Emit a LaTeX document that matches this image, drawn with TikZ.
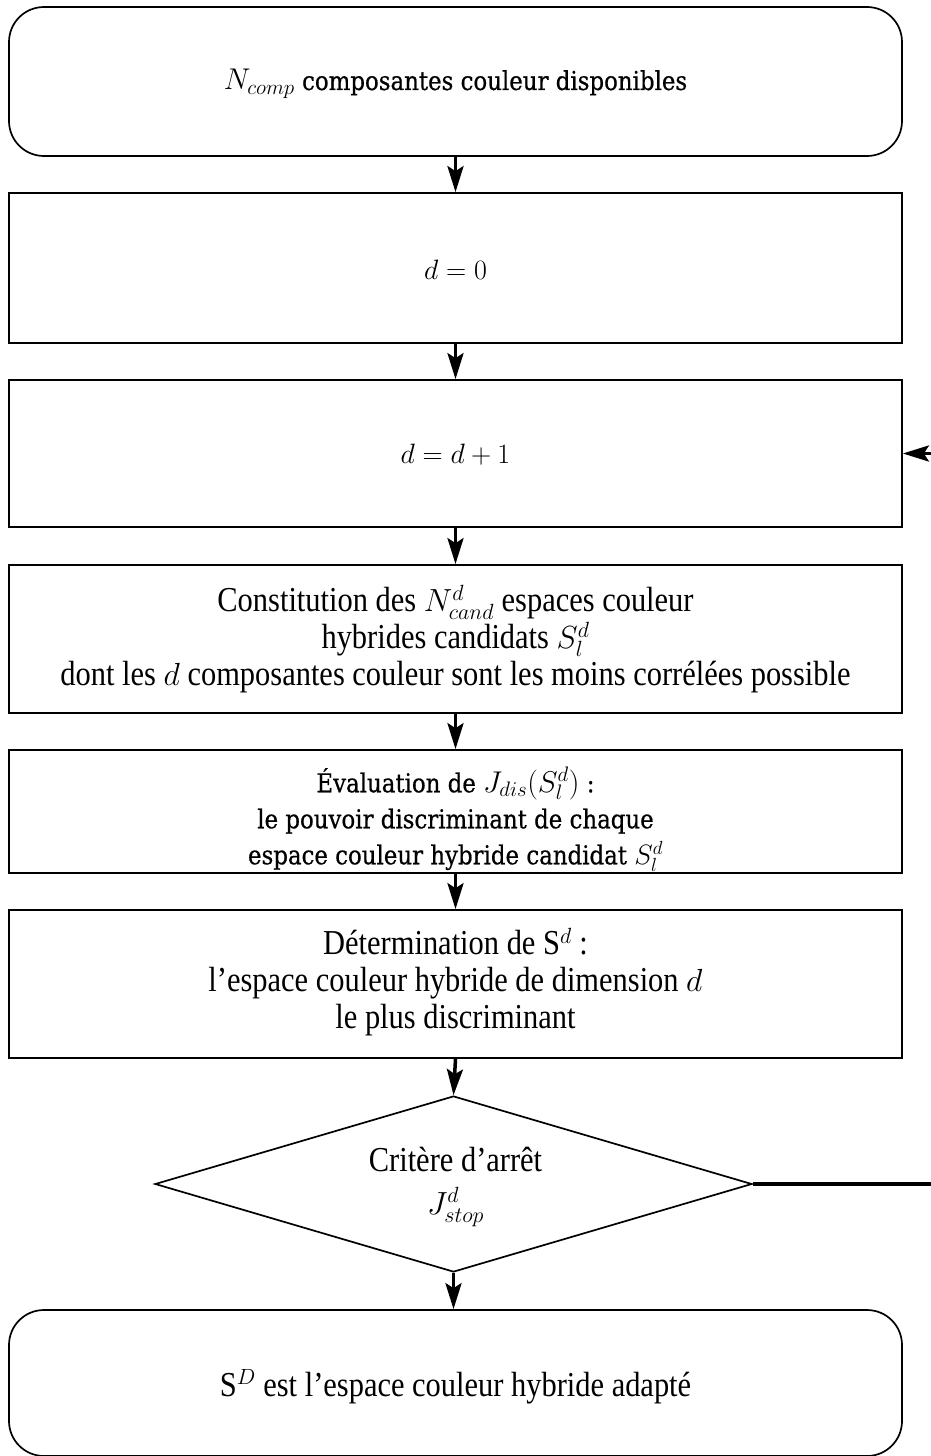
\documentclass[tikz,border=0pt]{standalone}
\usepackage{fix-cm}
\usepackage{fontspec}
\setmainfont[FakeStretch=0.88,FakeBold=0.6]{DejaVu Serif}
\newfontfamily\narrowf[FakeStretch=0.87]{Liberation Serif}
\DeclareMathSizes{35}{32}{22}{16}
\DeclareMathSizes{26}{28}{19}{14}
\usetikzlibrary{arrows.meta,shapes.geometric}
\begin{document}
\begin{tikzpicture}[x=1pt,y=-1pt,
  box/.style={draw, line width=1.7pt, minimum width=893pt, inner sep=0pt},
  txt/.style={align=center, inner sep=0pt},
  wide/.style={font=\fontsize{26}{36}\selectfont},
  narrow/.style={font=\narrowf\fontsize{35}{37}\selectfont},
  arr/.style={line width=3.5pt, -{Stealth[length=26pt,width=16pt,inset=5pt]}},
  loopline/.style={line width=3.5pt}
]
\useasboundingbox (0,0) rectangle (930,1456);
% boxes
\node[box, rounded corners=35pt, minimum height=149pt] (n1) at (455.5,81.5) {};
\node[box, minimum height=150pt] (n2) at (455.5,268) {};
\node[box, minimum height=147pt] (n3) at (455.5,453.5) {};
\node[box, minimum height=148pt] (n4) at (455.5,639) {};
\node[box, minimum height=123pt] (n5) at (455.5,811.5) {};
\node[box, minimum height=148pt] (n6) at (455.5,984) {};
\node[draw, line width=1.7pt, shape=diamond, aspect=3.39, minimum width=597pt, minimum height=176pt,
  inner sep=0pt] (dia) at (453.5,1184) {};
\node[box, rounded corners=35pt, minimum height=146pt] (n7) at (455.5,1383) {};
% texts
\node[txt, wide] (t1) at (455.5,84)
  {{\fontsize{30}{36}\selectfont$N_{comp}$} composantes couleur disponibles};
\node[txt, wide] (t2) at (455.5,270) {$d=0$};
\node[txt, wide] (t3) at (455.5,455) {$d=d+1$};
\node[txt, narrow] (t4) at (455.5,639)
  {Constitution des $N^d_{cand}$ espaces couleur\\
   hybrides candidats $S^d_l$\\
   dont les $d$ composantes couleur sont les moins corrélées possible};
\node[txt, wide] (t5) at (455.5,819)
  {Évaluation de {\fontsize{30}{36}\selectfont$J_{dis}(S^d_l)$} :\\
   le pouvoir discriminant de chaque\\
   espace couleur hybride candidat $S^d_l$};
\node[txt, narrow] (t6) at (455.5,982)
  {Détermination de S$^d$ :\\
   l’espace couleur hybride de dimension $d$\\
   le plus discriminant};
\node[txt, narrow, anchor=base] (t8) at (455.5,1171) {Critère d’arrêt};
\node[txt, narrow] (t9) at (455.5,1207) {$J^d_{stop}$};
\node[txt, narrow] (t7) at (455.5,1387)
  {S$^D$ est l’espace couleur hybride adapté};
% connectors
\coordinate (c1) at (945,1184);
\coordinate (c2) at (945,453.5);
\draw[arr] (n1) -- (n2);
\draw[arr] (n2) -- (n3);
\draw[arr] (n3) -- (n4);
\draw[arr] (n4) -- (n5);
\draw[arr] (n5) -- (n6);
\draw[arr] (n6.south) -- (dia.north);
\draw[arr] (dia.south) -- (dia.south |- n7.north);
\draw[loopline] (dia.east) -- (c1) -- (c2);
\draw[arr] (c2) -- (n3.east);
\end{tikzpicture}
\end{document}
